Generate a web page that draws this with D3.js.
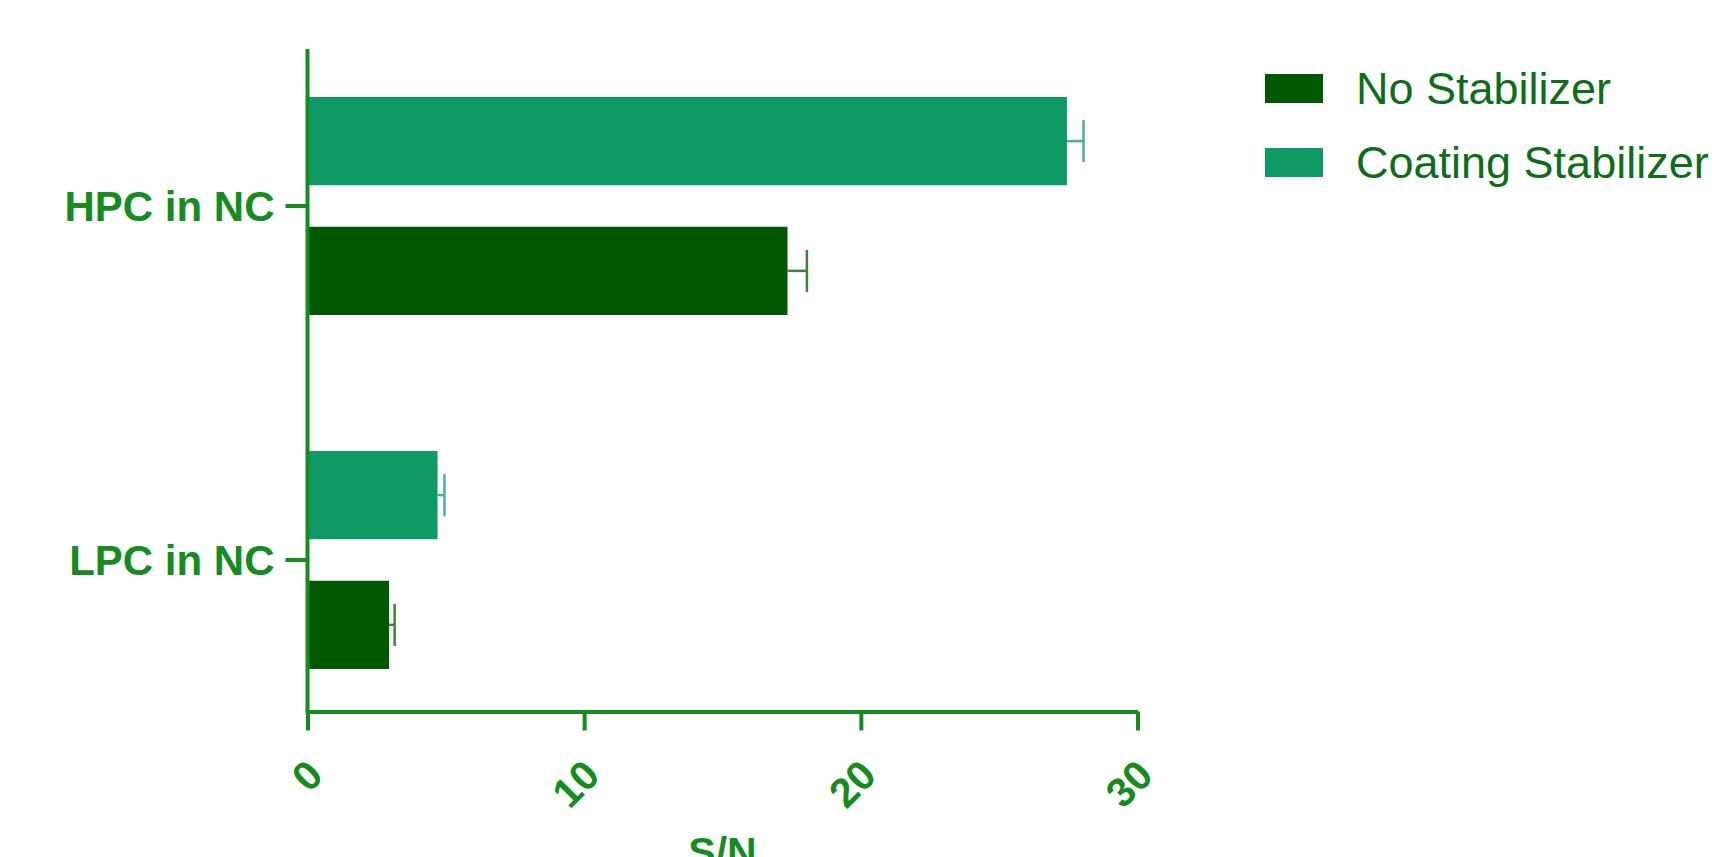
<!DOCTYPE html>
<html>
<head>
<meta charset="utf-8">
<script src="https://cdn.jsdelivr.net/npm/d3@7"></script>
<style>
  html, body { margin: 0; padding: 0; background: #fff; overflow: hidden; }
  svg { display: block; font-family: "Liberation Sans", Arial, sans-serif; }
</style>
</head>
<body>
<svg id="chart" width="1722" height="857"></svg>
<script>
// categories (top to bottom) and series
var categories = ["HPC in NC", "LPC in NC"];
var seriesNames = ["No Stabilizer", "Coating Stabilizer"];
var noStabilizer = [17.35, 2.95];
var noStabilizerErr = [0.7, 0.2];
var coatingStabilizer = [27.45, 4.7];
var coatingStabilizerErr = [0.6, 0.25];
var xTicks = [0, 10, 20, 30];

var colors = { "No Stabilizer": "#005800", "Coating Stabilizer": "#0e9966" };
var axisColor = "#148c1e";

var svg = d3.select("#chart");

var x = d3.scaleLinear().domain([0, 30]).range([307.5, 1137.5]);
var y = d3.scaleBand().domain(categories).range([29, 737]);
// coating sits above no-stabilizer inside each band
var inner = d3.scaleBand().domain(["Coating Stabilizer", "No Stabilizer"])
    .range([-109, 109]).paddingInner(0.32);

var rows = [];
categories.forEach(function (c, i) {
    rows.push({ cat: c, series: "No Stabilizer", v: noStabilizer[i], e: noStabilizerErr[i] });
    rows.push({ cat: c, series: "Coating Stabilizer", v: coatingStabilizer[i], e: coatingStabilizerErr[i] });
});

function barTop(d) { return y(d.cat) + y.bandwidth() / 2 + inner(d.series); }

// bars
svg.append("g").selectAll("rect").data(rows).enter().append("rect")
    .attr("x", x(0))
    .attr("y", barTop)
    .attr("width", function (d) { return x(d.v) - x(0); })
    .attr("height", inner.bandwidth())
    .attr("fill", function (d) { return colors[d.series]; });

// error bars (positive side only)
var eg = svg.append("g").selectAll("g").data(rows).enter().append("g")
    .attr("stroke", function (d) { return colors[d.series]; })
    .attr("stroke-width", 2.5)
    .attr("opacity", 0.75);
eg.append("line")
    .attr("x1", function (d) { return x(d.v); })
    .attr("x2", function (d) { return x(d.v + d.e); })
    .attr("y1", function (d) { return barTop(d) + inner.bandwidth() / 2; })
    .attr("y2", function (d) { return barTop(d) + inner.bandwidth() / 2; });
eg.append("line")
    .attr("x1", function (d) { return x(d.v + d.e); })
    .attr("x2", function (d) { return x(d.v + d.e); })
    .attr("y1", function (d) { return barTop(d) + inner.bandwidth() / 2 - 21; })
    .attr("y2", function (d) { return barTop(d) + inner.bandwidth() / 2 + 21; });

// x axis
var xAxis = svg.append("g")
    .attr("transform", "translate(0,711.5)")
    .call(d3.axisBottom(x).tickValues(xTicks).tickSize(19).tickSizeOuter(0).tickFormat(d3.format("d")));
xAxis.select(".domain").attr("stroke", axisColor).attr("stroke-width", 4);
xAxis.selectAll(".tick line").attr("stroke", axisColor).attr("stroke-width", 4);
xAxis.selectAll(".tick text")
    .attr("fill", axisColor)
    .attr("font-size", 41)
    .attr("font-weight", "bold")
    .attr("text-anchor", "end")
    .attr("dy", "0.35em")
    .attr("y", 0)
    .attr("transform", "translate(7,56) rotate(-45)");

// y axis
svg.append("line")
    .attr("x1", x(0)).attr("x2", x(0))
    .attr("y1", 49).attr("y2", 713)
    .attr("stroke", axisColor).attr("stroke-width", 4);
var yt = svg.append("g").selectAll("g").data(categories).enter().append("g")
    .attr("transform", function (d) { return "translate(0," + (y(d) + y.bandwidth() / 2) + ")"; });
yt.append("line")
    .attr("x1", x(0) - 22).attr("x2", x(0))
    .attr("stroke", axisColor).attr("stroke-width", 4);
yt.append("text")
    .attr("x", x(0) - 33)
    .attr("dy", "0.35em")
    .attr("text-anchor", "end")
    .attr("fill", axisColor)
    .attr("font-size", 42)
    .attr("font-weight", "bold")
    .text(function (d) { return d; });

// axis title
svg.append("text")
    .attr("x", (x(0) + x(30)) / 2)
    .attr("y", 866)
    .attr("text-anchor", "middle")
    .attr("fill", axisColor)
    .attr("font-size", 41)
    .attr("font-weight", "bold")
    .text("S/N");

// legend
var lg = svg.append("g").selectAll("g").data(seriesNames).enter().append("g")
    .attr("transform", function (d, i) { return "translate(1265," + (74 + i * 74) + ")"; });
lg.append("rect")
    .attr("width", 58).attr("height", 29)
    .attr("fill", function (d) { return colors[d]; });
lg.append("text")
    .attr("x", 91).attr("y", 14.5)
    .attr("dy", "0.35em")
    .attr("fill", "#0d6e1a")
    .attr("font-size", 45)
    .text(function (d) { return d; });
</script>
</body>
</html>
